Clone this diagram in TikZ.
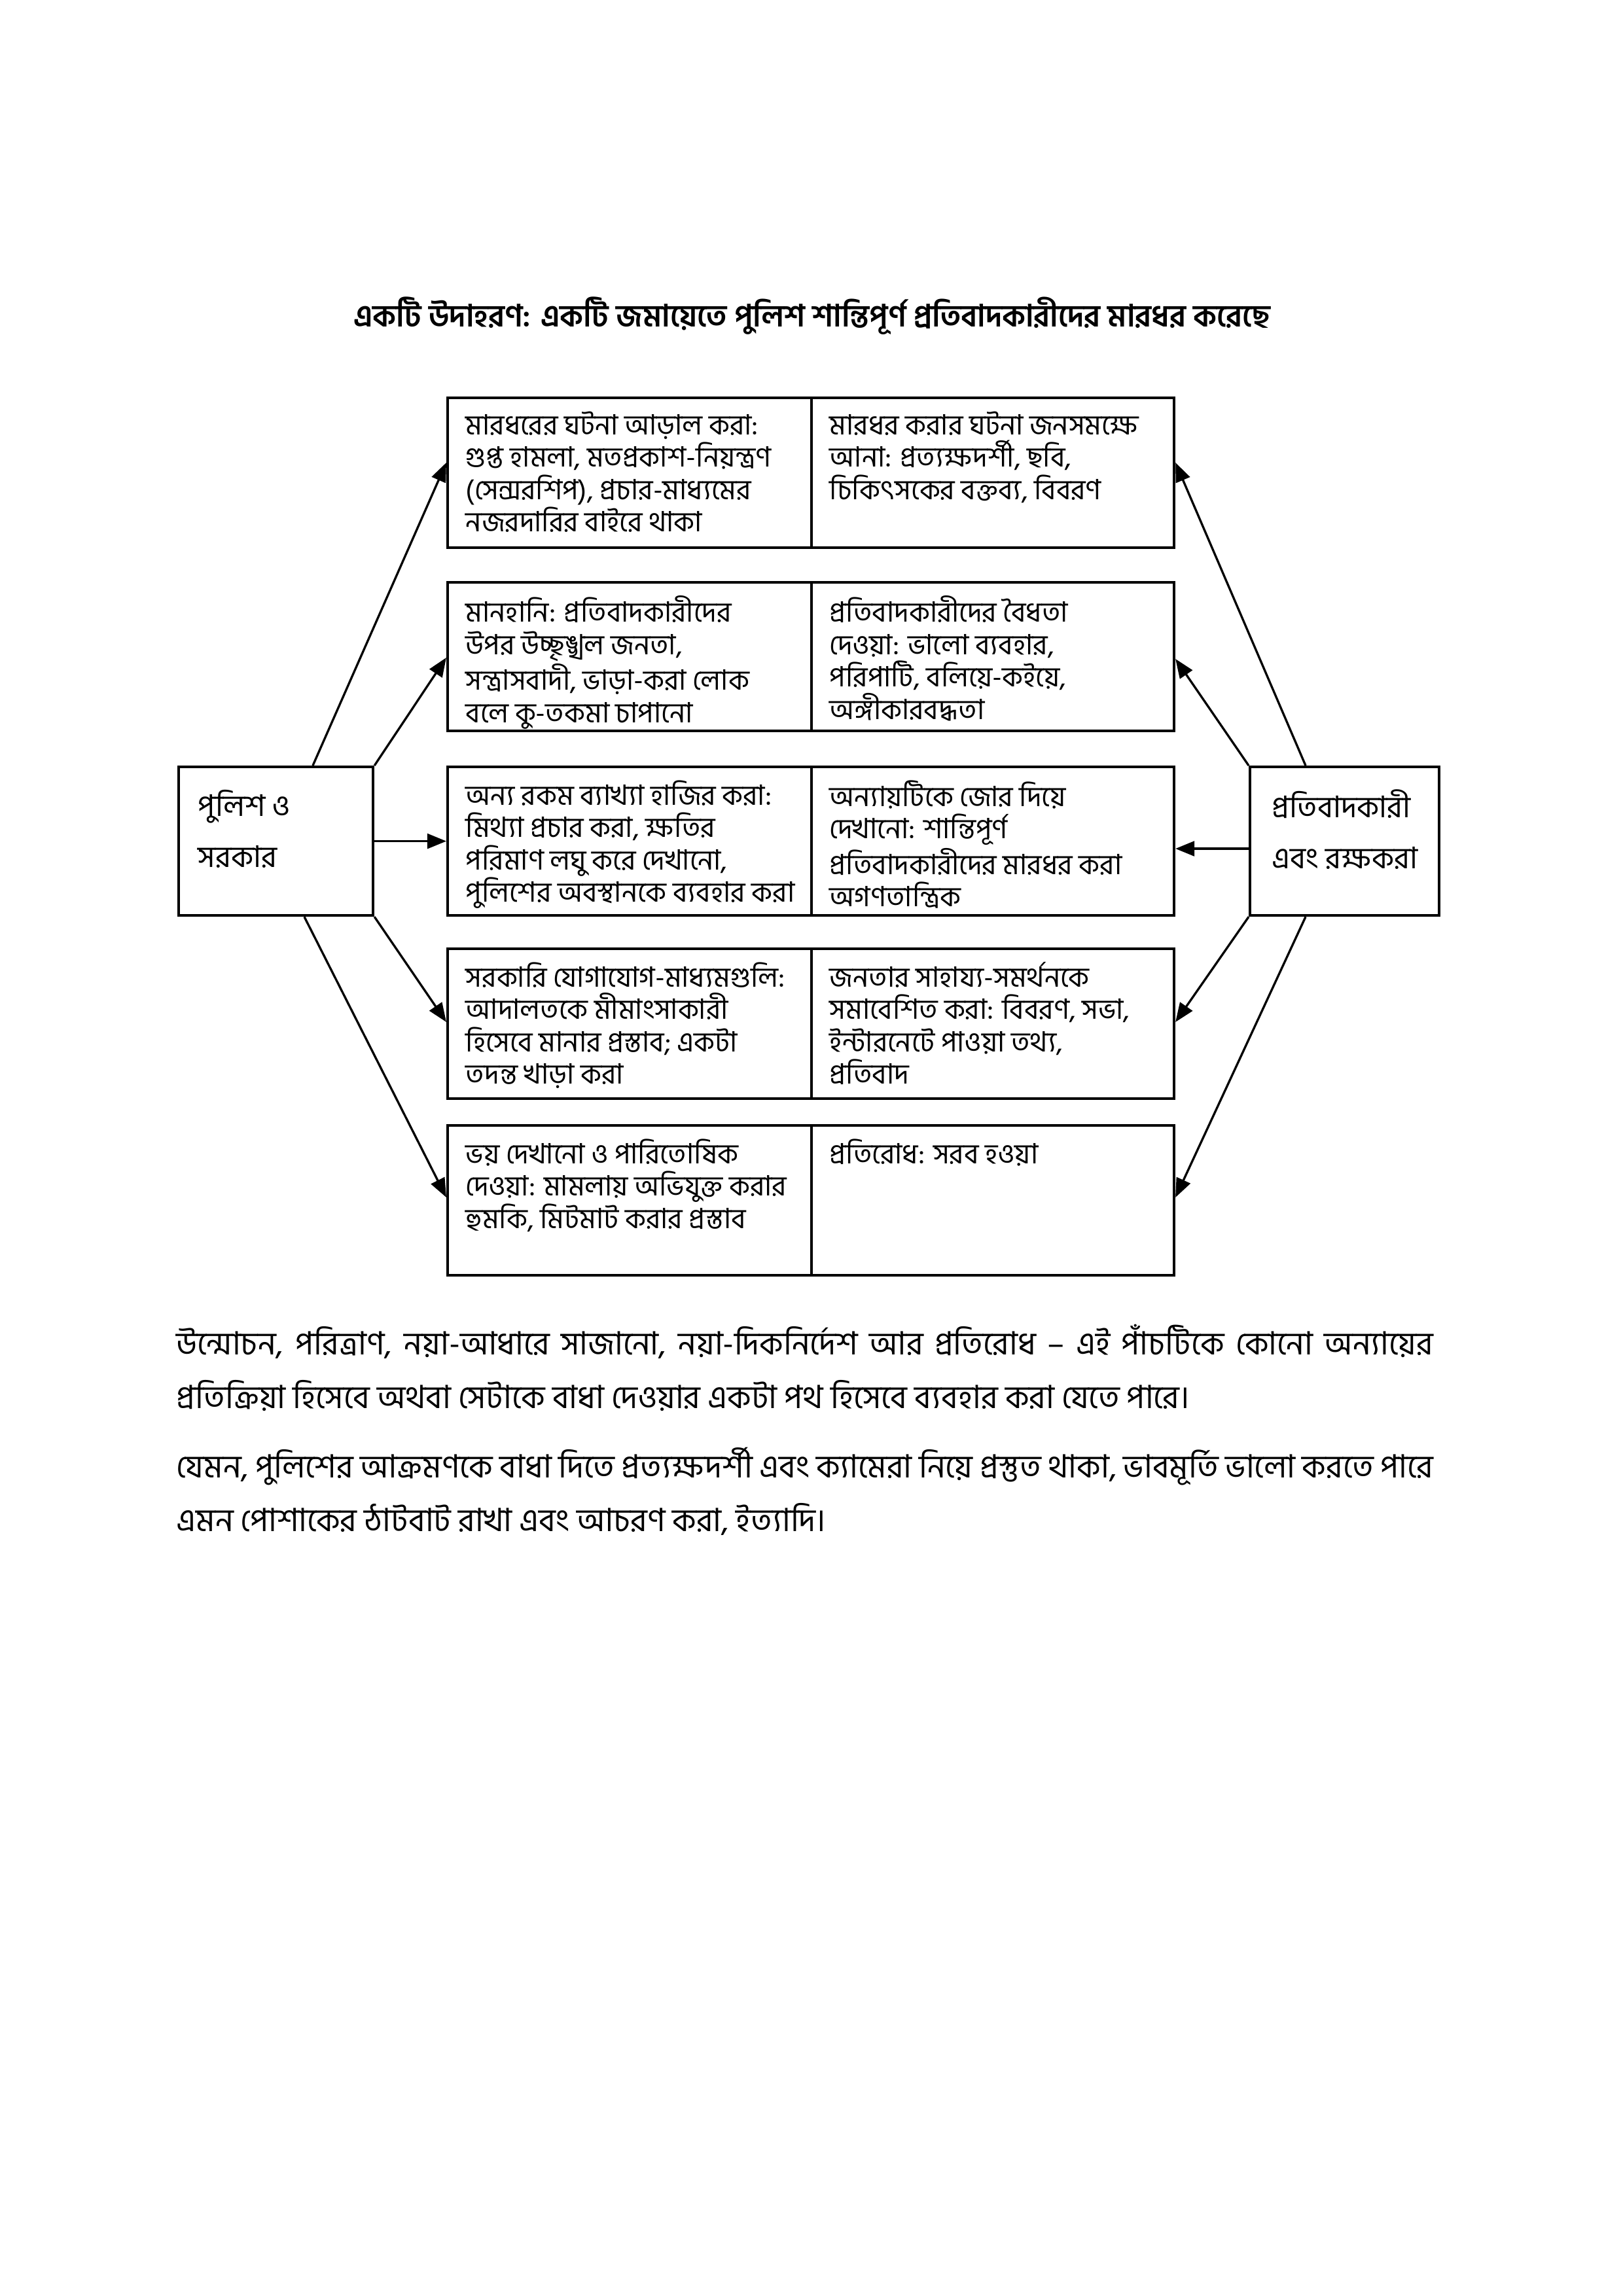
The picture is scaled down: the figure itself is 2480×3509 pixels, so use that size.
\documentclass[tikz,border=0pt]{standalone}
\usepackage{fontspec}
\setmainfont[Script=Bengali]{Hind Siliguri}
\usetikzlibrary{arrows.meta,calc}
\tikzset{
  cell/.style={draw, line width=1pt, minimum width=556\pxu, minimum height=229\pxu, anchor=north west, inner sep=0pt},
  outer/.style={draw, line width=1pt, anchor=north west, inner sep=0pt},
  celltext/.style={anchor=north west, align=left, inner sep=0pt, font=\fontsize{10.3pt}{11.9pt}\selectfont},
  outertext/.style={anchor=north west, align=left, inner sep=0pt, font=\fontsize{11pt}{18.8pt}\selectfont},
  conn/.style={line width=0.8pt, -{Triangle[length=7pt,width=5.5pt]}},
}
\newlength{\pxu}
\setlength{\pxu}{0.0846774mm}
\begin{document}
\begin{tikzpicture}[x=0.0846774mm, y=-0.0846774mm]
\useasboundingbox (0,0) rectangle (2480,3509);
\fill[white] (0,0) rectangle (2480,3509);

% title
\node[font=\fontsize{11.3pt}{14pt}\selectfont\bfseries, anchor=center, inner sep=0pt] (title) at (1241,483)
  {একটি উদাহরণ: একটি জমায়েতে পুলিশ শান্তিপূর্ণ প্রতিবাদকারীদের মারধর করেছে};

% middle rows
\node[cell, minimum height=229\pxu] (L1) at (682,606) {};
\node[cell, minimum width=554\pxu, minimum height=229\pxu] (R1) at (1238,606) {};
\node[cell, minimum height=227\pxu] (L2) at (682,888) {};
\node[cell, minimum width=554\pxu, minimum height=227\pxu] (R2) at (1238,888) {};
\node[cell, minimum height=227\pxu] (L3) at (682,1170) {};
\node[cell, minimum width=554\pxu, minimum height=227\pxu] (R3) at (1238,1170) {};
\node[cell, minimum height=229\pxu] (L4) at (682,1448) {};
\node[cell, minimum width=554\pxu, minimum height=229\pxu] (R4) at (1238,1448) {};
\node[cell, minimum height=229\pxu] (L5) at (682,1718) {};
\node[cell, minimum width=554\pxu, minimum height=229\pxu] (R5) at (1238,1718) {};

\node[celltext] (tL1) at ($(L1.north west)+(29,22)$) {মারধরের ঘটনা আড়াল করা:\\গুপ্ত হামলা, মতপ্রকাশ-নিয়ন্ত্রণ\\(সেন্সরশিপ), প্রচার-মাধ্যমের\\নজরদারির বাইরে থাকা};
\node[celltext] (tR1) at ($(R1.north west)+(29,22)$) {মারধর করার ঘটনা জনসমক্ষে\\আনা: প্রত্যক্ষদর্শী, ছবি,\\চিকিৎসকের বক্তব্য, বিবরণ};
\node[celltext] (tL2) at ($(L2.north west)+(29,22)$) {মানহানি: প্রতিবাদকারীদের\\উপর উচ্ছৃঙ্খল জনতা,\\সন্ত্রাসবাদী, ভাড়া-করা লোক\\বলে কু-তকমা চাপানো};
\node[celltext] (tR2) at ($(R2.north west)+(29,22)$) {প্রতিবাদকারীদের বৈধতা\\দেওয়া: ভালো ব্যবহার,\\পরিপাটি, বলিয়ে-কইয়ে,\\অঙ্গীকারবদ্ধতা};
\node[celltext] (tL3) at ($(L3.north west)+(29,22)$) {অন্য রকম ব্যাখ্যা হাজির করা:\\মিথ্যা প্রচার করা, ক্ষতির\\পরিমাণ লঘু করে দেখানো,\\পুলিশের অবস্থানকে ব্যবহার করা};
\node[celltext] (tR3) at ($(R3.north west)+(29,22)$) {অন্যায়টিকে জোর দিয়ে\\দেখানো: শান্তিপূর্ণ\\প্রতিবাদকারীদের মারধর করা\\অগণতান্ত্রিক};
\node[celltext] (tL4) at ($(L4.north west)+(29,22)$) {সরকারি যোগাযোগ-মাধ্যমগুলি:\\আদালতকে মীমাংসাকারী\\হিসেবে মানার প্রস্তাব; একটা\\তদন্ত খাড়া করা};
\node[celltext] (tR4) at ($(R4.north west)+(29,22)$) {জনতার সাহায্য-সমর্থনকে\\সমাবেশিত করা: বিবরণ, সভা,\\ইন্টারনেটে পাওয়া তথ্য,\\প্রতিবাদ};
\node[celltext] (tL5) at ($(L5.north west)+(29,22)$) {ভয় দেখানো ও পারিতোষিক\\দেওয়া: মামলায় অভিযুক্ত করার\\হুমকি, মিটমাট করার প্রস্তাব};
\node[celltext] (tR5) at ($(R5.north west)+(29,22)$) {প্রতিরোধ: সরব হওয়া};

% outer boxes
\node[outer, minimum width=297\pxu, minimum height=227\pxu] (PG) at (271,1170) {};
\node[outer, minimum width=289\pxu, minimum height=227\pxu] (PR) at (1908,1170) {};
\node[outertext] (tPG) at ($(PG.north west)+(31,36)$) {পুলিশ ও\\সরকার};
\node[outertext] (tPR) at ($(PR.north west)+(35,36)$) {প্রতিবাদকারী\\এবং রক্ষকরা};

% anchor coordinates
\coordinate (pg1) at ($(PG.north west)+(207,0)$);
\coordinate (pg5) at ($(PG.south west)+(194,0)$);
\coordinate (pr1) at ($(PR.north west)+(87,0)$);
\coordinate (pr3) at ($(PR.north west)+(0,127)$);
\coordinate (pr5) at ($(PR.south west)+(87,0)$);
\coordinate (l1) at ($(L1.north west)+(0,101)$);
\coordinate (l2) at ($(L2.north west)+(0,117)$);
\coordinate (l4) at ($(L4.north west)+(0,114)$);
\coordinate (l5) at ($(L5.north west)+(0,112)$);
\coordinate (r1) at ($(R1.north east)+(0,101)$);
\coordinate (r2) at ($(R2.north east)+(0,119)$);
\coordinate (r3) at ($(R3.north east)+(0,127)$);
\coordinate (r4) at ($(R4.north east)+(0,114)$);
\coordinate (r5) at ($(R5.north east)+(0,112)$);

% connectors
\draw[conn] (pg1) -- (l1);
\draw[conn] (PG.north east) -- (l2);
\draw[conn] (PG.east) -- (L3.west);
\draw[conn] (PG.south east) -- (l4);
\draw[conn] (pg5) -- (l5);
\draw[conn] (pr1) -- (r1);
\draw[conn] (PR.north west) -- (r2);
\draw[conn] (pr3) -- (r3);
\draw[conn] (PR.south west) -- (r4);
\draw[conn] (pr5) -- (r5);

% paragraphs
\node[anchor=north west, inner sep=0pt, text width=162.6mm, align=justify, font=\fontsize{11.8pt}{19.8pt}\selectfont] (p1) at (269,2023)
  {উন্মোচন, পরিত্রাণ, নয়া-আধারে সাজানো, নয়া-দিকনির্দেশ আর প্রতিরোধ – এই পাঁচটিকে কোনো অন্যায়ের\linebreak প্রতিক্রিয়া হিসেবে অথবা সেটাকে বাধা দেওয়ার একটা পথ হিসেবে ব্যবহার করা যেতে পারে।};
\node[anchor=north west, inner sep=0pt, text width=162.6mm, align=justify, font=\fontsize{11.8pt}{19.8pt}\selectfont] (p2) at (269,2211)
  {যেমন, পুলিশের আক্রমণকে বাধা দিতে প্রত্যক্ষদর্শী এবং ক্যামেরা নিয়ে প্রস্তুত থাকা, ভাবমূর্তি ভালো করতে পারে\linebreak এমন পোশাকের ঠাটবাট রাখা এবং আচরণ করা, ইত্যাদি।};
\end{tikzpicture}
\end{document}
